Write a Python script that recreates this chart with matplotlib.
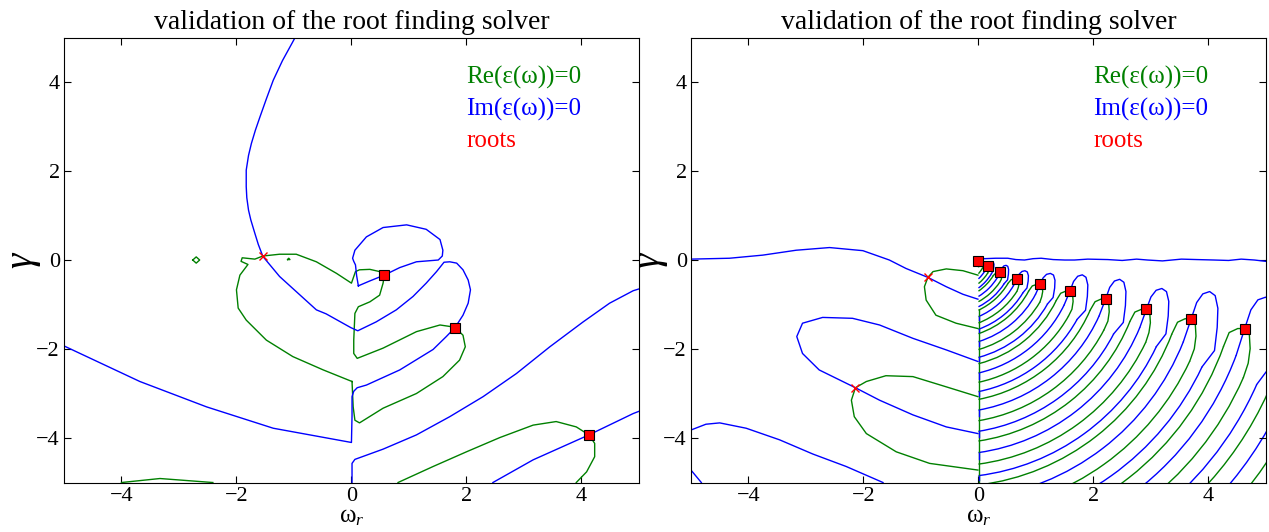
import numpy as np
import matplotlib.pyplot as plt
from matplotlib.lines import Line2D
from matplotlib.patches import Arc

plt.rcParams['font.family'] = 'serif'
plt.rcParams['font.serif'] = ['Liberation Serif', 'DejaVu Serif']
plt.rcParams['mathtext.fontset'] = 'custom'
plt.rcParams['mathtext.rm'] = 'Liberation Serif'
plt.rcParams['mathtext.it'] = 'Liberation Serif:italic'

# ---- left panel: contour lines (omega_r, gamma) ----
left_im = [
    [(-5.0, -1.93), (-3.68, -2.73), (-2.52, -3.30), (-1.36, -3.78), (0.0, -4.10),
     (0.01, -3.50), (0.01, -3.07), (0.04, -2.95), (0.10, -2.87), (0.26, -2.81),
     (0.84, -2.47), (1.42, -2.01), (1.65, -1.72), (1.80, -1.52), (1.94, -1.24),
     (2.03, -0.97), (2.07, -0.67), (2.03, -0.45), (1.94, -0.22), (1.83, -0.07),
     (1.71, -0.04), (1.61, -0.05), (1.48, -0.26), (1.30, -0.52), (1.07, -0.82),
     (0.78, -1.12), (0.43, -1.39), (0.11, -1.59), (-0.01, -1.52), (-0.44, -1.21),
     (-0.61, -1.12), (-0.96, -0.71), (-1.25, -0.37), (-1.54, 0.08), (-1.62, 0.35),
     (-1.68, 0.60), (-1.75, 0.90), (-1.79, 1.12), (-1.82, 1.40), (-1.83, 1.65),
     (-1.83, 2.02), (-1.79, 2.35), (-1.74, 2.62), (-1.67, 2.92), (-1.59, 3.22),
     (-1.48, 3.62), (-1.36, 4.04), (-1.20, 4.48), (-1.03, 4.88), (-0.98, 5.0)],
    [(0.12, -0.58), (0.09, -0.35), (0.07, -0.11), (0.04, -0.03), (0.02, 0.04),
     (0.06, 0.22), (0.26, 0.52), (0.55, 0.73), (0.96, 0.79), (1.30, 0.69),
     (1.54, 0.46), (1.59, 0.22), (1.58, 0.09), (1.51, 0.0), (1.13, -0.04),
     (0.84, -0.17), (0.57, -0.34), (0.32, -0.47), (0.12, -0.58)],
    [(0.01, -5.0), (0.01, -4.57), (0.06, -4.48), (0.55, -4.25), (1.13, -3.93),
     (1.71, -3.52), (2.29, -3.07), (2.87, -2.55), (3.45, -1.95), (4.03, -1.39),
     (4.49, -0.97), (4.90, -0.69), (5.0, -0.65)],
    [(2.46, -5.0), (3.16, -4.49), (4.13, -3.93), (4.90, -3.45), (5.0, -3.40)],
]
left_re = [
    [(0.01, -2.73), (-0.49, -2.47), (-1.02, -2.17), (-1.48, -1.80), (-1.83, -1.35),
     (-1.97, -1.08), (-2.0, -0.67), (-1.94, -0.34), (-1.80, -0.10), (-1.92, -0.03),
     (-1.90, 0.05), (-1.68, 0.02), (-1.54, 0.09), (-1.25, 0.13), (-0.96, 0.13),
     (-0.61, -0.04), (-0.26, -0.30), (0.0, -0.52), (0.07, -0.26), (0.14, -0.22),
     (0.32, -0.21), (0.49, -0.26), (0.57, -0.34), (0.55, -0.52), (0.49, -0.79),
     (0.32, -0.94), (0.12, -1.05), (0.06, -1.20), (0.04, -1.80), (0.04, -2.10),
     (0.10, -2.21), (0.55, -1.98), (1.13, -1.61), (1.54, -1.46), (1.80, -1.51),
     (1.94, -1.69), (1.98, -1.95), (1.88, -2.25), (1.59, -2.62), (1.13, -3.0),
     (0.55, -3.33), (0.14, -3.66), (0.06, -3.60), (0.03, -3.30), (0.01, -2.73)],
    [(0.81, -5.0), (1.42, -4.64), (2.0, -4.31), (2.58, -3.99), (3.16, -3.71),
     (3.56, -3.63), (3.91, -3.75), (4.13, -3.93), (4.23, -4.12), (4.23, -4.42),
     (4.09, -4.76), (3.91, -5.0)],
    [(-4.0, -5.0), (-3.33, -4.91), (-2.41, -5.0)],
    [(-2.76, 0.0), (-2.70, 0.07), (-2.64, 0.0), (-2.70, -0.07), (-2.76, 0.0)],
    [(-1.11, 0.01), (-1.09, 0.04), (-1.07, 0.01), (-1.11, 0.01)],
]
left_roots_r = [0.57, 1.80, 4.13]
left_roots_g = [-0.34, -1.52, -3.93]
left_cross_r = [-1.54]
left_cross_g = [0.08]

# ---- right panel, left of the cut and along the top ----
right_im = [
    [(-5.0, 0.02), (-4.33, 0.04), (-3.75, 0.11), (-3.17, 0.22), (-2.59, 0.28),
     (-2.01, 0.21), (-1.55, 0.0), (-1.26, -0.19), (-0.88, -0.39), (-0.56, -0.60),
     (-0.27, -0.77), (-0.01, -0.88)],
    [(-0.01, -2.28), (-0.56, -2.02), (-1.14, -1.76), (-1.72, -1.46), (-2.19, -1.31),
     (-2.71, -1.29), (-3.06, -1.42), (-3.16, -1.72), (-3.06, -2.10), (-2.77, -2.47),
     (-2.14, -2.87), (-1.72, -3.15), (-1.14, -3.48), (-0.56, -3.75), (-0.01, -3.90)],
    [(-5.0, -3.82), (-4.74, -3.69), (-4.50, -3.66), (-4.04, -3.78), (-3.46, -4.04),
     (-2.88, -4.36), (-2.30, -4.64), (-1.66, -5.0)],
    [(-5.0, -4.72), (-4.82, -5.0)],
    [(0.02, 0.0), (0.06, 0.05), (0.10, 0.03), (0.30, 0.04), (0.51, 0.04), (0.65, 0.01),
     (0.80, 0.0), (0.95, 0.03), (1.09, 0.04), (1.30, 0.01), (1.50, 0.0), (1.67, 0.0),
     (1.90, 0.02), (2.25, 0.01), (2.50, -0.01), (2.75, 0.02), (2.94, 0.0), (3.20, -0.02),
     (3.53, 0.02), (3.80, 0.01), (4.10, 0.0), (4.35, -0.01), (4.57, 0.02), (4.80, 0.0),
     (5.0, -0.03)],
]
right_re = [
    [(-0.01, -0.34), (-0.27, -0.24), (-0.56, -0.20), (-0.79, -0.26), (-0.88, -0.39),
     (-0.94, -0.60), (-0.91, -0.90), (-0.74, -1.24), (-0.39, -1.42), (-0.01, -1.54)],
    [(-0.01, -3.07), (-0.56, -2.85), (-1.14, -2.62), (-1.61, -2.60), (-1.95, -2.73),
     (-2.14, -2.87), (-2.21, -3.15), (-2.16, -3.52), (-1.95, -3.90), (-1.43, -4.31),
     (-0.85, -4.57), (-0.01, -4.72)],
    [(0.0, -0.10), (0.02, -0.06), (0.05, -0.07), (0.06, -0.11), (0.03, -0.14), (0.0, -0.15)],
]

# ---- right panel, nested tongues right of the cut (one per root) ----
# height where each arm meets the line omega_r = 0 (below the frame for the
# lower ones): green-left, blue-left, green-right, blue-right
hook_arm_depth = [
    [-0.307, -0.423, -0.529, -0.629],
    [-0.699, -0.819, -0.936, -1.050],
    [-1.128, -1.272, -1.415, -1.556],
    [-1.655, -1.834, -2.012, -2.188],
    [-2.330, -2.539, -2.748, -2.957],
    [-3.132, -3.372, -3.611, -3.849],
    [-4.067, -4.327, -4.586, -4.845],
    [-5.056, -5.362, -5.669, -5.975],
    [-6.249, -6.586, -6.925, -7.264],
]
hook_green = [
    [(0.068, -0.178), (0.104, -0.142), (0.135, -0.13), (0.16, -0.13), (0.177, -0.148),
     (0.18, -0.19), (0.173, -0.234), (0.16, -0.278)],
    [(0.258, -0.347), (0.306, -0.289), (0.347, -0.27), (0.38, -0.27), (0.402, -0.299),
     (0.406, -0.366), (0.397, -0.436), (0.38, -0.507)],
    [(0.502, -0.511), (0.568, -0.443), (0.624, -0.42), (0.67, -0.42), (0.701, -0.454),
     (0.706, -0.534), (0.693, -0.618), (0.67, -0.701)],
    [(0.849, -0.677), (0.936, -0.582), (1.01, -0.55), (1.07, -0.55), (1.11, -0.598),
     (1.117, -0.709), (1.10, -0.826), (1.07, -0.942)],
    [(1.326, -0.887), (1.43, -0.747), (1.518, -0.70), (1.59, -0.70), (1.638, -0.77),
     (1.646, -0.934), (1.626, -1.106), (1.59, -1.277)],
    [(1.91, -1.108), (2.028, -0.937), (2.128, -0.88), (2.21, -0.88), (2.265, -0.966),
     (2.274, -1.165), (2.251, -1.374), (2.21, -1.583)],
    [(2.59, -1.35), (2.72, -1.17), (2.83, -1.11), (2.92, -1.11), (2.98, -1.20),
     (2.99, -1.41), (2.965, -1.63), (2.92, -1.85)],
    [(3.307, -1.632), (3.462, -1.398), (3.593, -1.32), (3.70, -1.32), (3.771, -1.437),
     (3.783, -1.71), (3.754, -1.996), (3.70, -2.282)],
    [(4.185, -1.90), (4.36, -1.63), (4.509, -1.54), (4.63, -1.54), (4.711, -1.675),
     (4.725, -1.99), (4.691, -2.32), (4.63, -2.65)],
]
hook_blue = [
    [(0.124, -0.208), (0.16, -0.13), (0.182, -0.074), (0.208, -0.044), (0.236, -0.036),
     (0.258, -0.05), (0.269, -0.094), (0.266, -0.16), (0.255, -0.24), (0.238, -0.31)],
    [(0.332, -0.395), (0.38, -0.27), (0.41, -0.18), (0.443, -0.132), (0.48, -0.12),
     (0.51, -0.142), (0.524, -0.212), (0.521, -0.318), (0.506, -0.446), (0.484, -0.558)],
    [(0.604, -0.568), (0.67, -0.42), (0.711, -0.314), (0.757, -0.257), (0.808, -0.241),
     (0.849, -0.268), (0.869, -0.352), (0.864, -0.477), (0.843, -0.629), (0.813, -0.762)],
    [(0.983, -0.757), (1.07, -0.55), (1.124, -0.402), (1.184, -0.322), (1.251, -0.301),
     (1.305, -0.338), (1.331, -0.455), (1.325, -0.63), (1.298, -0.842), (1.258, -1.027)],
    [(1.486, -1.004), (1.59, -0.70), (1.654, -0.482), (1.726, -0.365), (1.806, -0.333),
     (1.87, -0.388), (1.902, -0.56), (1.894, -0.817), (1.862, -1.129), (1.814, -1.402)],
    [(2.092, -1.251), (2.21, -0.88), (2.283, -0.614), (2.365, -0.472), (2.456, -0.434),
     (2.529, -0.50), (2.565, -0.709), (2.556, -1.023), (2.519, -1.403), (2.465, -1.735)],
    [(2.79, -1.50), (2.92, -1.11), (3.00, -0.83), (3.09, -0.68), (3.19, -0.64),
     (3.27, -0.71), (3.31, -0.93), (3.30, -1.26), (3.26, -1.66), (3.20, -2.01)],
    [(3.545, -1.827), (3.70, -1.32), (3.795, -0.956), (3.902, -0.761), (4.021, -0.709),
     (4.117, -0.80), (4.164, -1.086), (4.152, -1.515), (4.105, -2.035), (4.033, -2.49)],
    [(4.455, -2.125), (4.63, -1.54), (4.738, -1.12), (4.86, -0.895), (4.995, -0.835),
     (5.103, -0.94), (5.157, -1.27), (5.143, -1.765), (5.089, -2.365), (5.008, -2.89)],
]
# arms of the next tongue, whose tip lies right of the frame
outer_arm_depth = [-7.568, -7.941, -8.312, -8.685]

right_roots_r = [0.00, 0.16, 0.38, 0.67, 1.07, 1.59, 2.21, 2.92, 3.70, 4.63]
right_roots_g = [-0.03, -0.13, -0.27, -0.42, -0.55, -0.70, -0.88, -1.11, -1.32, -1.54]
right_cross_r = [-0.88, -2.14]
right_cross_g = [-0.39, -2.87]

# the arms are round on screen around this point; x half-width per y half-height
ARM_CENTRE = (-0.5, 0.25)
ARM_RATIO = 0.774
CUT_X = 0.008


def arm_arc(depth, color, end_angle):
    cx, cy = ARM_CENTRE
    b = np.hypot(cx / ARM_RATIO, depth - cy)
    start = np.degrees(np.arctan2(depth - cy, -cx))
    return Arc((cx, cy), 2 * b * ARM_RATIO, 2 * b, theta1=start, theta2=end_angle,
               color=color, lw=1.0)


def draw_arm(ax, depth, end, color):
    cx, cy = ARM_CENTRE
    b = np.hypot(cx / ARM_RATIO, depth - cy)
    dx, dy = end[0] - cx, end[1] - cy
    s = 1.0 / np.hypot(dx / (b * ARM_RATIO), dy / b)
    ax.add_patch(arm_arc(depth, color, np.degrees(np.arctan2(dy, dx))))
    return (cx + dx * s, cy + dy * s)


fig = plt.figure(figsize=(12.69, 5.32), dpi=100)
ax_l = fig.add_axes([0.0504, 0.0930, 0.4531, 0.8365])
ax_r = fig.add_axes([0.5445, 0.0930, 0.4531, 0.8365])

for ax, re_lines, im_lines in [(ax_l, left_re, left_im), (ax_r, right_re, right_im)]:
    for pts in re_lines:
        p = np.array(pts)
        ax.plot(p[:, 0], p[:, 1], color='g', lw=1.0)
    for pts in im_lines:
        p = np.array(pts)
        ax.plot(p[:, 0], p[:, 1], color='b', lw=1.0)

# tongues: arc arms joined to the hand-read tips
for depths, g_pts, b_pts in zip(hook_arm_depth, hook_green, hook_blue):
    for pts, (d_left, d_right), col in [(g_pts, (depths[0], depths[2]), 'g'),
                                        (b_pts, (depths[1], depths[3]), 'b')]:
        pts = list(pts)
        pts[0] = draw_arm(ax_r, d_left, pts[0], col)
        pts[-1] = draw_arm(ax_r, d_right, pts[-1], col)
        p = np.array(pts)
        ax_r.plot(p[:, 0], p[:, 1], color=col, lw=1.0)

for depth, col in zip(outer_arm_depth, ['g', 'b', 'g', 'b']):
    ax_r.add_patch(arm_arc(depth, col, -5))

# along the cut the arms run down the line omega_r = 0 (green continuous, blue short)
cut_depths = [d for row in hook_arm_depth[2:] for d in row if d > -5]
cut_cols = ['g', 'b', 'g', 'b'] * len(hook_arm_depth)
green_cut = [d for d, c in zip(cut_depths, cut_cols) if c == 'g']
ax_r.plot([CUT_X, CUT_X], [green_cut[0], -5], color='g', lw=1.0)
for i, (d, c) in enumerate(zip(cut_depths, cut_cols)):
    if c == 'b':
        nxt = cut_depths[i + 1] if i + 1 < len(cut_depths) else -5
        ax_r.plot([CUT_X, CUT_X], [d, d - 0.6 * (d - nxt)], color='b', lw=1.0)

for ax, rr, rg, cr, cg in [(ax_l, left_roots_r, left_roots_g, left_cross_r, left_cross_g),
                           (ax_r, right_roots_r, right_roots_g, right_cross_r, right_cross_g)]:
    ax.plot(cr, cg, 'x', color='r', ms=6, mew=1.0, zorder=5)
    ax.plot(rr, rg, 's', color='r', mec='k', ms=6.5, mew=0.8, zorder=5)

    ax.set_xlim(-5, 5)
    ax.set_ylim(-5, 5)
    ax.set_xticks([-4, -2, 0, 2, 4])
    ax.set_yticks([-4, -2, 0, 2, 4])
    ax.tick_params(direction='in', top=True, right=True, labelsize=16, length=5, pad=3)
    ax.set_title('validation of the root finding solver', fontsize=20)
    ax.set_xlabel('ω$_r$', fontsize=18, labelpad=0)
    ax.set_ylabel(r'$\gamma$', fontsize=28, labelpad=-5)

    handles = [Line2D([], [], color='g'), Line2D([], [], color='b'), Line2D([], [], color='r')]
    leg = ax.legend(handles, ['Re(ε(ω))=0', 'Im(ε(ω))=0', 'roots'],
                    loc='upper left', bbox_to_anchor=(0.70, 0.937), frameon=False,
                    handlelength=0, handletextpad=0, borderpad=0, borderaxespad=0,
                    labelspacing=0.36, fontsize=18)
    for txt, c in zip(leg.get_texts(), ['g', 'b', 'r']):
        txt.set_color(c)

fig.savefig('out.png', dpi=100)
